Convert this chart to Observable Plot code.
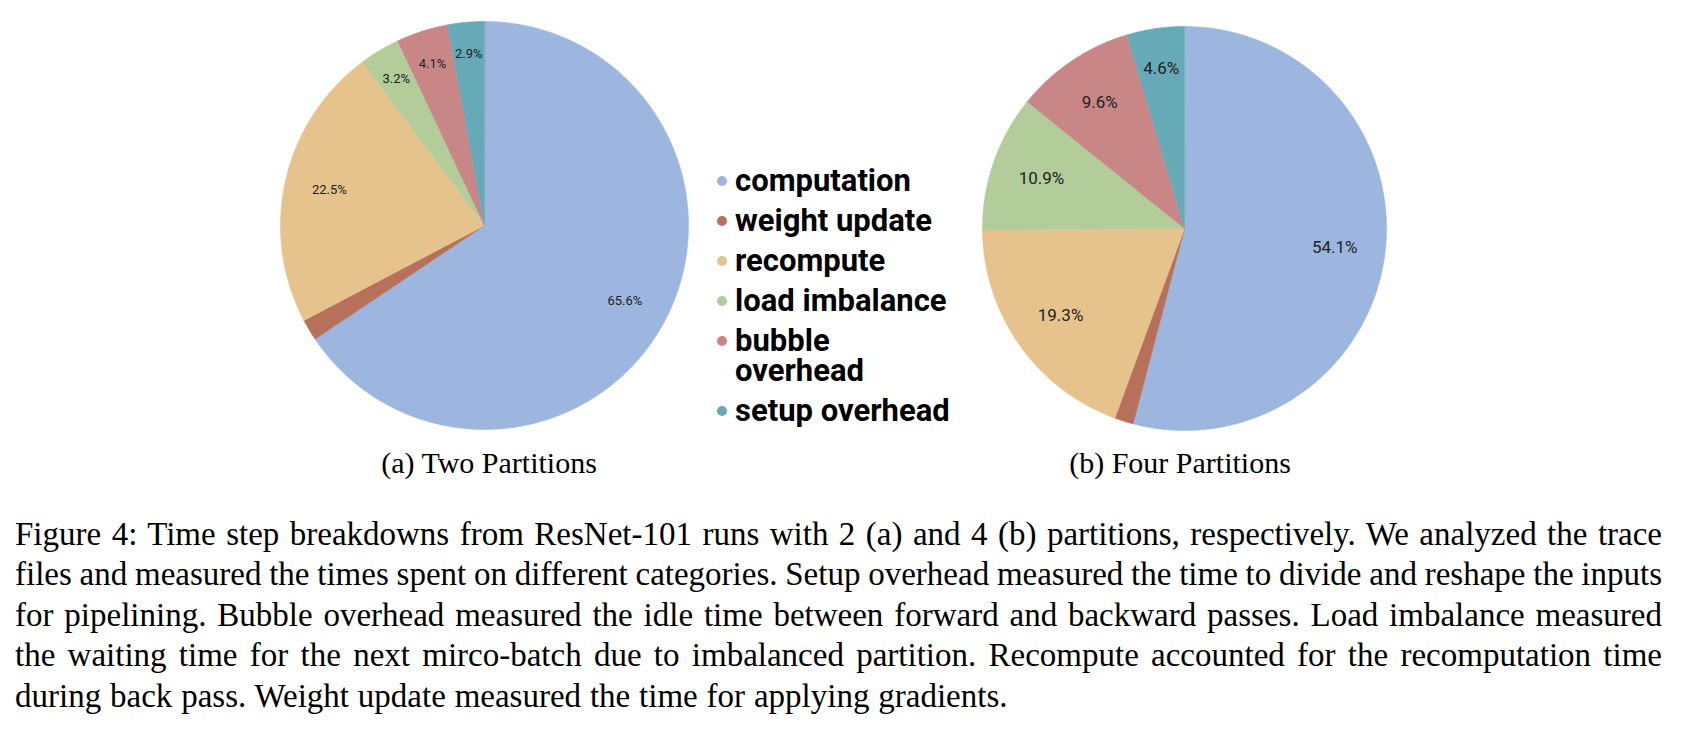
<!DOCTYPE html>
<html>
<head>
<meta charset="utf-8">
<script src="https://cdn.jsdelivr.net/npm/d3@7"></script>
<script src="https://cdn.jsdelivr.net/npm/@observablehq/plot@0.6"></script>
<style>
  html, body { margin: 0; padding: 0; background: #fff; }
  #fig { position: relative; width: 1698px; height: 740px; overflow: hidden; background: #fff; }
  .pie { position: absolute; }
  .pie svg { display: block; }
  .legend { position: absolute; left: 735px; top: 166px; font-family: Roboto, "Open Sans", sans-serif; font-weight: 700; font-size: 31px; line-height: 30px; color: #000; white-space: pre-line; }
  .legend .item { position: relative; margin-bottom: 10px; }
  .legend .dot { position: absolute; left: -18.3px; top: 9.8px; width: 10px; height: 10px; border-radius: 50%; }
  .sub { position: absolute; top: 448px; width: 400px; margin-left: -200px; text-align: center; font-family: "Liberation Serif", "Times New Roman", serif; font-size: 30px; line-height: 30px; color: #000; }
  .caption { position: absolute; left: 15px; top: 513.5px; width: 1647px; font-family: "Liberation Serif", "Times New Roman", serif; font-size: 33px; line-height: 40.5px; word-spacing: -1px; color: #000; }
  .caption .ln { text-align: justify; text-align-last: justify; }
  .caption .ln.last { text-align: left; text-align-last: left; word-spacing: 0.6px; }
</style>
</head>
<body>
<div id="fig"></div>
<script>
const categories = ["computation", "weight update", "recompute", "load imbalance", "bubble overhead", "setup overhead"];
const legendLabels = ["computation", "weight update", "recompute", "load imbalance", "bubble\noverhead", "setup overhead"];
const colors = ["#9cb6e0", "#b77059", "#e6c38d", "#b2cc9a", "#c98686", "#66a9b7"];
const twoPartitions = [65.6, 1.7, 22.5, 3.2, 4.1, 2.9];
const fourPartitions = [54.1, 1.5, 19.3, 10.9, 9.6, 4.6];
const subTitles = ["(a) Two Partitions", "(b) Four Partitions"];
const captionLines = [
  "Figure 4:  Time step breakdowns from ResNet-101 runs with 2 (a) and 4 (b) partitions, respectively.  We analyzed the trace",
  "files and measured the times spent on different categories. Setup overhead measured the time to divide and reshape the inputs",
  "for pipelining.  Bubble overhead measured the idle time between forward and backward passes.  Load imbalance measured",
  "the waiting time for the next mirco-batch due to imbalanced partition.  Recompute accounted for the recomputation time",
  "during back pass. Weight update measured the time for applying gradients."
];

function pieChart(values, opts) {
  const { radiusPx, size, labelFrac, fontSize } = opts;
  const arcs = d3.pie().sort(null).value(d => d)(values);
  const pts = [];
  arcs.forEach((a, i) => {
    const cat = categories[i];
    pts.push({ cat, x: 0, y: 0 });
    const n = Math.max(2, Math.ceil((a.endAngle - a.startAngle) / (Math.PI / 360)));
    for (let j = 0; j <= n; j++) {
      const t = a.startAngle + (a.endAngle - a.startAngle) * j / n;
      pts.push({ cat, x: Math.sin(t), y: Math.cos(t) });
    }
  });
  // thin slices push their label outward so it fits inside the wedge
  const labels = arcs.filter(a => a.value >= 2).map(a => {
    const m = (a.startAngle + a.endAngle) / 2;
    const f = labelFrac + Math.max(0, 0.1 - a.value / 100) * 0.9;
    return { x: f * Math.sin(m), y: f * Math.cos(m), text: a.value.toFixed(1) + "%" };
  });
  const k = size / 2 / radiusPx;
  return Plot.plot({
    width: size, height: size, margin: 0,
    x: { domain: [-k, k], axis: null },
    y: { domain: [-k, k], axis: null },
    color: { type: "ordinal", domain: categories, range: colors },
    style: { fontFamily: "Roboto, sans-serif", background: "transparent" },
    marks: [
      Plot.line(pts, { x: "x", y: "y", z: "cat", fill: "cat", stroke: "cat", strokeWidth: 0.6, curve: "linear-closed" }),
      Plot.text(labels, { x: "x", y: "y", text: "text", fontSize, fill: "#222" })
    ]
  });
}

const fig = document.getElementById("fig");

const size = 440;
const pies = [
  { values: twoPartitions, radiusPx: 204, cx: 483.5, cy: 225, labelFrac: 0.78, fontSize: 13, subX: 489 },
  { values: fourPartitions, radiusPx: 202, cx: 1183.5, cy: 228, labelFrac: 0.75, fontSize: 17, subX: 1180 }
];
pies.forEach((p, i) => {
  const wrap = document.createElement("div");
  wrap.className = "pie";
  wrap.style.left = (p.cx - size / 2) + "px";
  wrap.style.top = (p.cy - size / 2) + "px";
  wrap.appendChild(pieChart(p.values, { radiusPx: p.radiusPx, size, labelFrac: p.labelFrac, fontSize: p.fontSize }));
  fig.appendChild(wrap);
  const sub = document.createElement("div");
  sub.className = "sub";
  sub.style.left = p.subX + "px";
  sub.textContent = subTitles[i];
  fig.appendChild(sub);
});

const legend = document.createElement("div");
legend.className = "legend";
legendLabels.forEach((lab, i) => {
  const item = document.createElement("div");
  item.className = "item";
  const dot = document.createElement("span");
  dot.className = "dot";
  dot.style.background = colors[i];
  item.appendChild(dot);
  item.appendChild(document.createTextNode(lab));
  legend.appendChild(item);
});
fig.appendChild(legend);

const cap = document.createElement("div");
cap.className = "caption";
captionLines.forEach((t, i) => {
  const ln = document.createElement("div");
  ln.className = "ln" + (i === captionLines.length - 1 ? " last" : "");
  ln.textContent = t;
  cap.appendChild(ln);
});
fig.appendChild(cap);
</script>
</body>
</html>
